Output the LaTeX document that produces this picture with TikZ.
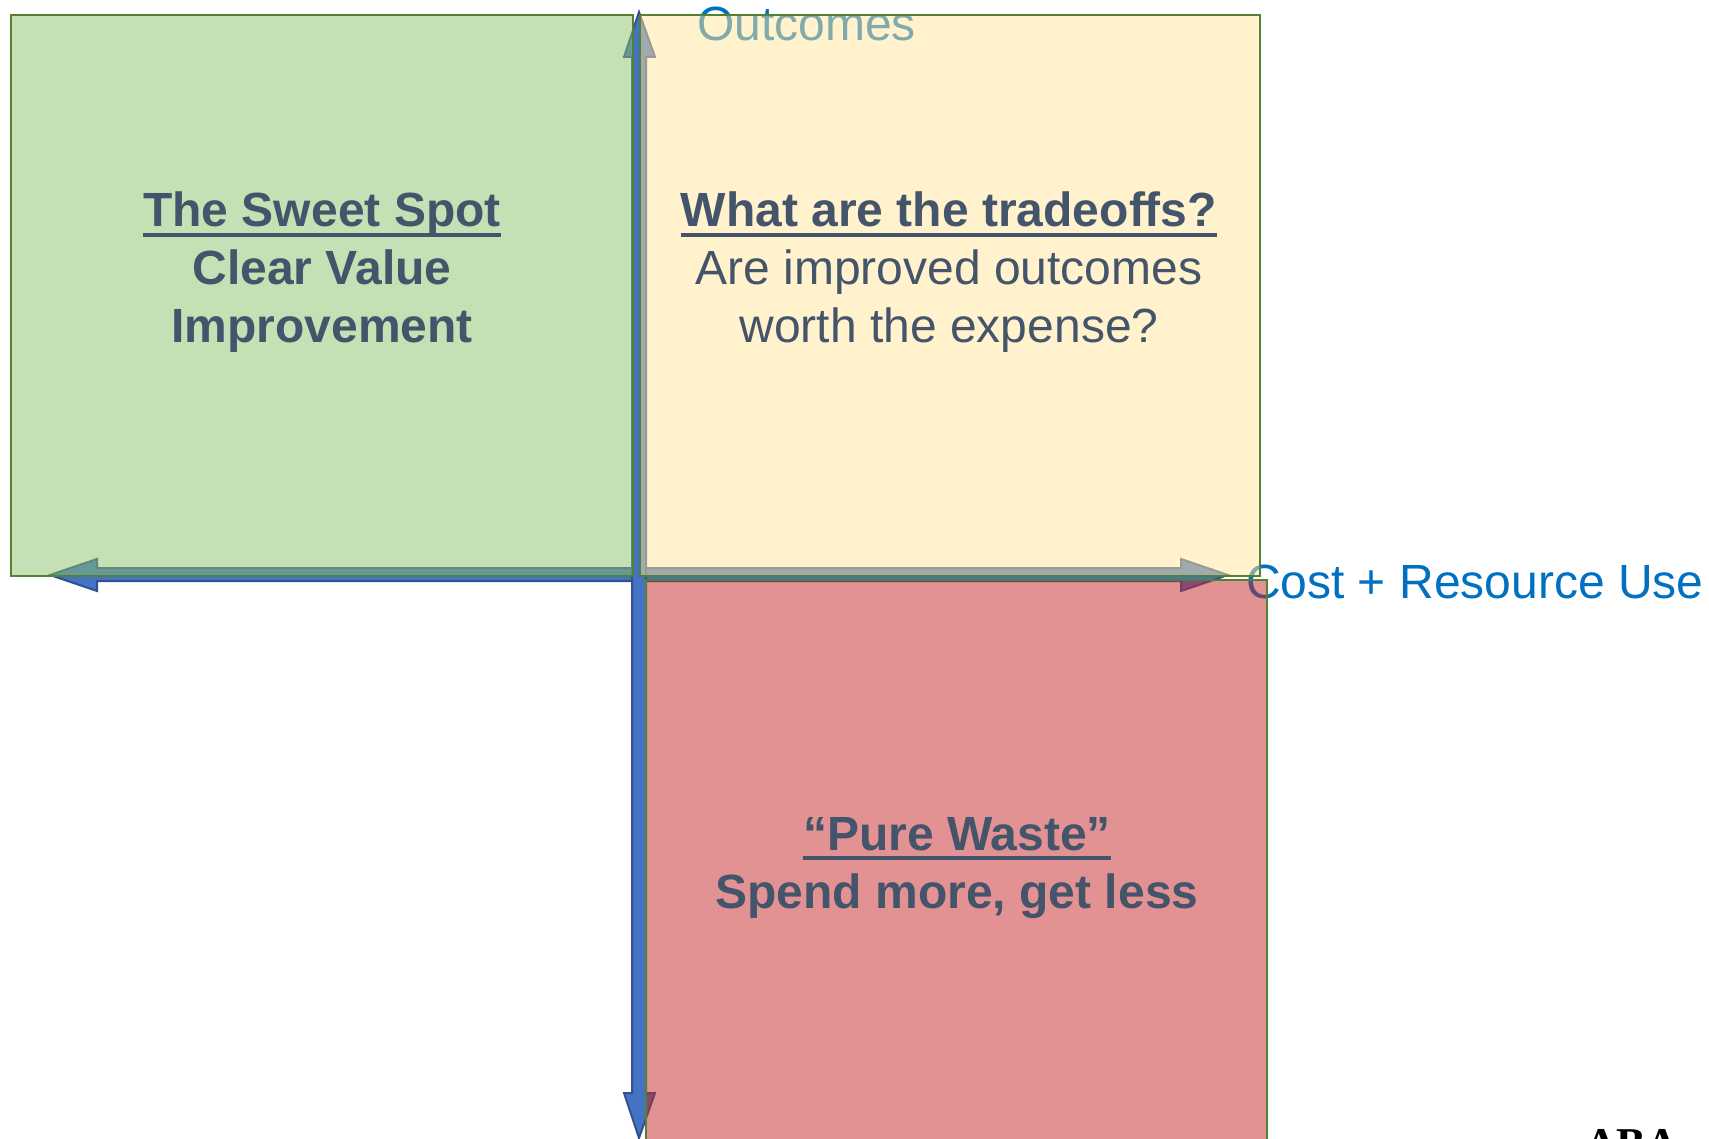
\documentclass[tikz,border=0pt]{standalone}
\usepackage{fontspec}
\setmainfont{Liberation Sans}
\newfontfamily\abafont{Liberation Serif}
\usetikzlibrary{calc}
\definecolor{txt}{RGB}{68,84,106}
\definecolor{lbl}{RGB}{0,112,192}
\definecolor{edge}{RGB}{84,130,53}
\definecolor{afill}{RGB}{68,114,196}
\definecolor{aedge}{RGB}{47,82,143}
\definecolor{gfill}{RGB}{139,193,105}
\definecolor{yfill}{RGB}{255,229,153}
\definecolor{rfill}{RGB}{199,37,39}
\newsavebox\ulbox
\newcommand{\myul}[1]{\sbox\ulbox{#1}\rlap{\raisebox{-5.2pt}{\rule{\wd\ulbox}{2.3pt}}}\usebox\ulbox}
\begin{document}
\begin{tikzpicture}[x=0.5pt,y=-0.5pt,
  every node/.style={inner sep=0pt,outer sep=0pt},
  quad/.style={draw=edge,line width=1.25pt,fill opacity=0.5},
  axisarrow/.style={fill=afill,draw=aedge,line width=1pt,line join=miter},
  headline/.style={anchor=base,text=txt,font=\fontsize{24}{29}\selectfont\bfseries},
  bodyline/.style={anchor=base,text=txt,font=\fontsize{24}{29}\selectfont},
  axlabel/.style={anchor=base west,text=lbl,font=\fontsize{24}{29}\selectfont}]
\useasboundingbox (0,0) rectangle (1709,1139);
% axis ends
\coordinate (ytop) at (639,12);
\coordinate (ybot) at (639,1138);
\coordinate (xleft) at (50,575);
\coordinate (xright) at (1228,575);
% horizontal double block arrow
\draw[axisarrow] (xleft) -- ($(xleft)+(47,-16)$) -- ($(xleft)+(47,-7)$)
  -- ($(xright)+(-47,-7)$) -- ($(xright)+(-47,-16)$) -- (xright)
  -- ($(xright)+(-47,16)$) -- ($(xright)+(-47,6)$)
  -- ($(xleft)+(47,6)$) -- ($(xleft)+(47,16)$) -- cycle;
% vertical double block arrow
\draw[axisarrow] (ytop) -- ($(ytop)+(16,45)$) -- ($(ytop)+(7,45)$)
  -- ($(ybot)+(7,-45)$) -- ($(ybot)+(16,-45)$) -- (ybot)
  -- ($(ybot)+(-15,-45)$) -- ($(ybot)+(-7,-45)$)
  -- ($(ytop)+(-7,45)$) -- ($(ytop)+(-15,45)$) -- cycle;
% axis labels (under the translucent boxes)
\node[axlabel] (outc) at (697,41) {Outcomes};
\node[axlabel] (cost) at (1246,598) {Cost + Resource Use};
% quadrant boxes
\draw[quad,fill=gfill] (11,15) rectangle (633,576);
\draw[quad,fill=yfill] (640,15) rectangle (1260,576);
\draw[quad,fill=rfill] (646,580) rectangle (1267,1160);
% texts
\node[headline] (sw1) at (322,227) {\myul{The Sweet Spot}};
\node[headline] (sw2) at (322,285) {Clear Value};
\node[headline] (sw3) at (322,343) {Improvement};
\node[headline] (tr1) at (949,227) {\myul{What are the tradeoffs?}};
\node[bodyline] (tr2) at (949,285) {Are improved outcomes};
\node[bodyline] (tr3) at (949,343) {worth the expense?};
\node[headline] (pw1) at (957,850) {\myul{“Pure Waste”}};
\node[headline] (pw2) at (957,908) {Spend more, get less};
\node[anchor=base west,font=\fontsize{22}{26}\selectfont\abafont\bfseries] (aba) at (1585,1158) {ABA};
\end{tikzpicture}
\end{document}
